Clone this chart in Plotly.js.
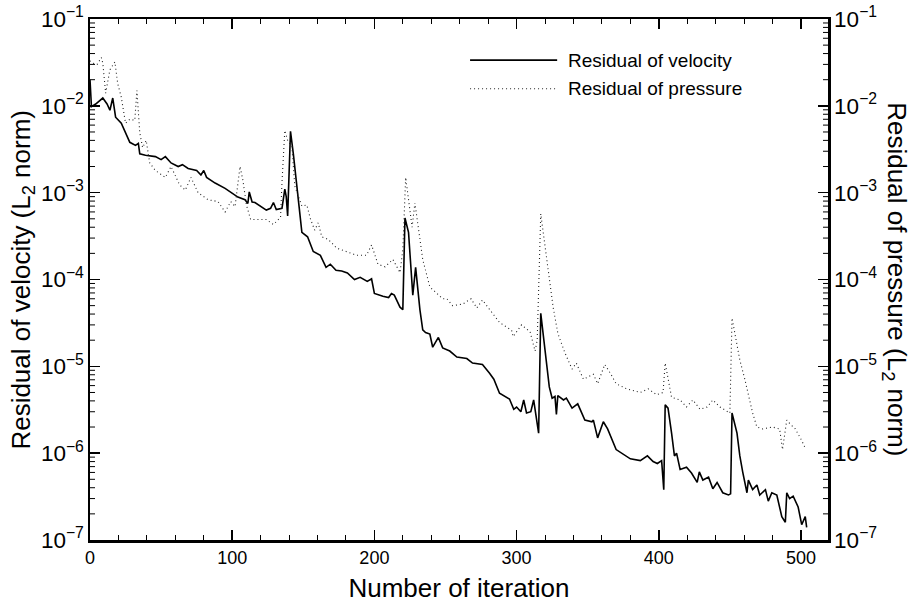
<!DOCTYPE html>
<html><head><meta charset="utf-8">
<script src="https://cdn.plot.ly/plotly-3.0.1.min.js"></script>
<style>html,body{margin:0;padding:0;background:#fff}#chart{width:912px;height:609px}</style>
</head><body><div id="chart"></div>
<script>
const velIter = [0,1,4,9,12,14,16,18,22,25,28,32,34,35,39,46,50,53,57,62,65,69,75,78,80,82,88,95,100,104,109,111,112,114,116,120,124,127,129,131,135,137,138,139,141,143,145,147,149,153,157,162,166,169,173,177,181,186,190,195,198,200,206,210,212,214,218,220,221.5,224,227,229,232,234,236,239,241,245,248,253,258,265,269,276,281,284,288,293,295,298,300,303,305,307,310,312,314,315.5,317,320,323,325,327,328,329,333,335,339,343,348,353,354,357,361,364,370,375,380,387,392,396,399,402,403.5,404.5,406.5,409,411,412.5,415,419.5,423,427,428.5,431,435,438,441,445,449,450.5,451.5,455,457,459,462,463,466,469,471,475,477,479.5,483,486.5,489,490,492,494.5,498,500.5,503,504];
const velRes = [0.02,0.0098,0.0105,0.0123,0.0105,0.0089,0.0123,0.0074,0.0063,0.0049,0.0038,0.0035,0.0037,0.0028,0.0027,0.0026,0.0024,0.0026,0.0022,0.0020,0.0021,0.0019,0.0018,0.0016,0.0018,0.0015,0.00129,0.00112,0.00098,0.00089,0.00083,0.00075,0.00102,0.00078,0.00077,0.00070,0.00063,0.00066,0.00077,0.00064,0.00066,0.0011,0.0009,0.00054,0.0051,0.0028,0.0015,0.0007,0.00035,0.00031,0.00021,0.00019,0.000138,0.00015,0.000128,0.000125,0.000119,0.0001,0.000106,0.000095,0.000102,0.000069,0.000064,0.000062,0.000069,0.000066,0.000048,0.000045,0.00051,0.00035,0.000066,0.000138,0.000045,0.0000263,0.0000245,0.0000235,0.0000166,0.0000215,0.0000163,0.000015,0.0000128,0.0000123,0.0000109,0.0000105,0.0000083,0.0000071,0.0000049,0.0000044,0.0000042,0.0000032,0.0000034,0.0000030,0.0000041,0.0000029,0.0000030,0.0000041,0.0000026,0.0000017,0.0000408,0.0000156,0.0000058,0.0000043,0.0000045,0.0000028,0.0000046,0.0000041,0.0000043,0.0000033,0.0000037,0.0000024,0.0000023,0.0000024,0.0000015,0.0000023,0.0000019,0.0000011,9.7e-7,8.6e-7,8.2e-7,9.3e-7,8.0e-7,7.6e-7,8.2e-7,3.8e-7,3.6e-6,3.3e-6,1.7e-6,9.3e-7,1.0e-6,6.5e-7,6.9e-7,5.9e-7,4.6e-7,6.1e-7,4.9e-7,5.3e-7,3.9e-7,4.6e-7,3.5e-7,3.3e-7,3.4e-7,2.9e-6,1.7e-6,9.3e-7,6.1e-7,3.5e-7,4.9e-7,3.8e-7,4.3e-7,3.3e-7,3.8e-7,2.8e-7,3.5e-7,3.3e-7,1.86e-7,1.6e-7,3.5e-7,3.0e-7,3.2e-7,2.4e-7,1.5e-7,1.86e-7,1.4e-7];

const presIter = [0,2,5,8,9,11,14,17.5,19.5,22,25,28,31.5,33,35,37,39.5,42,46,53,57,63,67,71,76,83,90,95,99,102,105.5,107.5,110,113,120,124,129,134,135,137,139,142,144,149,152.5,155,158,160.5,163,167.5,173.5,180.5,187.5,194.5,198,200,202.5,207.5,213,218,220,222,224.5,226.5,228.5,231,234,239,244,248,251,255,262,268,272,276,284,288,296.5,297.5,303.5,309.5,313,314.5,317,318.7,321,323.4,325.7,329,334,339,342,347,354,357,362,366,370,377.5,387,392.5,398.5,403,404.5,406.5,409,415,419.5,424,429,434,438,443,450,451.5,455,457,460.5,466,469,473,480,485,487,490,492,496,500.5,503.5];
const presRes = [0.033,0.031,0.03,0.036,0.031,0.014,0.026,0.032,0.018,0.0126,0.0063,0.007,0.0068,0.015,0.0049,0.0033,0.004,0.0022,0.0018,0.0015,0.002,0.00123,0.00107,0.0015,0.001,0.00083,0.00079,0.0006,0.00079,0.00069,0.002,0.0014,0.00072,0.00049,0.00049,0.00049,0.00043,0.00052,0.0013,0.0052,0.004,0.0034,0.0012,0.0007,0.00072,0.0005,0.00037,0.00045,0.00031,0.00029,0.00023,0.00021,0.00019,0.00019,0.00025,0.0002,0.00015,0.00014,0.00017,0.00012,0.00022,0.0015,0.00076,0.0004,0.00076,0.0004,0.00017,0.000082,0.000069,0.00006,0.00006,0.00005,0.000052,0.00006,0.000047,0.000058,0.000039,0.000032,0.000026,0.000022,0.00003,0.000025,0.000015,0.00002,0.00057,0.00035,0.00017,0.000091,0.000048,0.000024,0.0000143,0.0000093,0.0000109,0.0000071,0.0000081,0.0000063,0.0000105,0.0000083,0.0000063,0.0000055,0.000005,0.0000055,0.0000047,0.000005,0.0000109,0.0000073,0.0000044,0.0000041,0.0000034,0.0000041,0.0000032,0.0000034,0.0000041,0.0000034,0.0000029,0.000036,0.0000187,0.0000118,0.0000071,0.0000029,0.000002,0.0000019,0.000002,0.0000019,0.0000011,0.0000024,0.0000022,0.0000019,0.0000014,0.0000011];

const xTicks = [0,100,200,300,400,500];
const seriesNames = ['Residual of velocity','Residual of pressure'];
const decadeExps = [-7,-6,-5,-4,-3,-2];
const minorMantissas = [2,3,4,5,6,7,8,9];
const yMinorTicks = [];
decadeExps.forEach(e => minorMantissas.forEach(m => yMinorTicks.push(m * Math.pow(10, e))));

const FONT = 'Liberation Sans, Arial, Helvetica, sans-serif';
const traces = [
  {x: velIter, y: velRes, type:'scatter', mode:'lines', name: seriesNames[0],
   line:{color:'#000', width:1.6}, xaxis:'x', yaxis:'y', showlegend:false},
  {x: presIter, y: presRes, type:'scatter', mode:'lines', name: seriesNames[1],
   line:{color:'#222', width:1.1, dash:'1px,3px'}, xaxis:'x', yaxis:'y2', showlegend:false}
];

const yCommon = {
  type:'log', range:[-7,-1], dtick:1, exponentformat:'power', showexponent:'all',
  ticks:'inside', ticklen:10, tickwidth:1.5, tickcolor:'#000',
  showgrid:false, zeroline:false, showline:true, linecolor:'#000', linewidth:2.5,
  tickfont:{family:FONT, size:18, color:'#000'}, automargin:false, fixedrange:true
};

// short inside minor-tick marks on both y axes (axis decoration, in paper x / y-axis units)
const plotW = 912 - 90 - 84;
const minorLen = 5 / plotW;
const minorTickShapes = [];
yMinorTicks.forEach(v => {
  minorTickShapes.push({type:'line', xref:'paper', yref:'y', x0:0, x1:minorLen, y0:v, y1:v, line:{color:'#000', width:1}});
  minorTickShapes.push({type:'line', xref:'paper', yref:'y', x0:1 - minorLen, x1:1, y0:v, y1:v, line:{color:'#000', width:1}});
});

const layout = {
  width:912, height:609, paper_bgcolor:'#fff', plot_bgcolor:'#fff',
  margin:{l:90, r:84, t:19, b:69},
  font:{family:FONT, color:'#000'},
  xaxis:{range:[0,519], tickvals:xTicks, ticks:'inside', ticklen:10, tickwidth:1.5, tickcolor:'#000',
    minor:{dtick:20, ticks:'inside', ticklen:5, tickwidth:1, tickcolor:'#000', showgrid:false},
    mirror:'ticks', showline:true, linecolor:'#000', linewidth:2.5, showgrid:false, zeroline:false,
    tickfont:{family:FONT, size:18, color:'#000'}, automargin:false,
    title:{text:'Number of iteration', font:{family:FONT, size:26, color:'#000'}, standoff:12}},
  yaxis: Object.assign({}, yCommon, {side:'left'}),
  yaxis2: Object.assign({}, yCommon, {side:'right', overlaying:'y'}),
  showlegend:false,
  shapes: minorTickShapes.concat([
    {type:'line', xref:'paper', yref:'paper', x0:0.515, x1:0.633, y0:0.921, y1:0.921, line:{color:'#000', width:1.6}},
    {type:'line', xref:'paper', yref:'paper', x0:0.515, x1:0.633, y0:0.866, y1:0.866, line:{color:'#222', width:1.1, dash:'1px,3px'}}
  ]),
  annotations:[
    {xref:'paper', yref:'paper', x:0.645, y:0.921, xanchor:'left', yanchor:'middle', showarrow:false,
     text:seriesNames[0], font:{family:FONT, size:19, color:'#000'}},
    {xref:'paper', yref:'paper', x:0.645, y:0.866, xanchor:'left', yanchor:'middle', showarrow:false,
     text:seriesNames[1], font:{family:FONT, size:19, color:'#000'}},
    {xref:'paper', yref:'paper', x:-0.092, y:0.5, xanchor:'center', yanchor:'middle', showarrow:false, textangle:-90,
     text:'Residual of velocity (L<sub>2</sub> norm)', font:{family:FONT, size:26, color:'#000'}},
    {xref:'paper', yref:'paper', x:1.091, y:0.5, xanchor:'center', yanchor:'middle', showarrow:false, textangle:90,
     text:'Residual of pressure (L<sub>2</sub> norm)', font:{family:FONT, size:26, color:'#000'}}
  ]
};

Plotly.newPlot('chart', traces, layout, {staticPlot:true, displayModeBar:false});
</script></body></html>
